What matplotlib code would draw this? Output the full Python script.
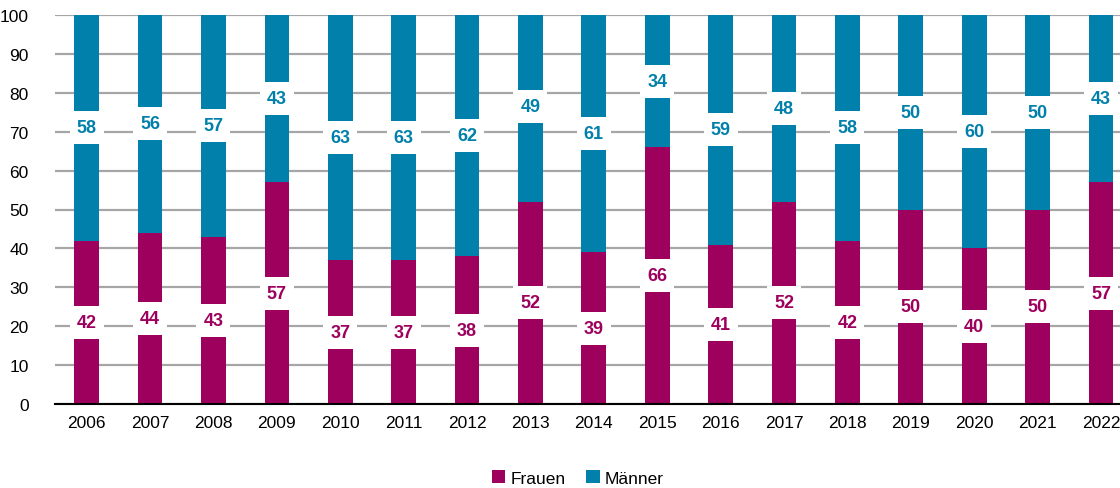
import matplotlib.pyplot as plt
import numpy as np
from matplotlib.patches import Rectangle

years = [str(y) for y in range(2006, 2023)]
frauen = [42, 44, 43, 57, 37, 37, 38, 52, 39, 66, 41, 52, 42, 50, 40, 50, 57]
maenner = [58, 56, 57, 43, 63, 63, 62, 49, 61, 34, 59, 48, 58, 50, 60, 50, 43]

c_f = '#9e005d'
c_m = '#0080aa'

plt.rcParams['font.family'] = ['Liberation Sans', 'DejaVu Sans']

fig = plt.figure(figsize=(11.2, 4.89), dpi=100)
ax = fig.add_axes([55 / 1120, 84 / 489, 1 - 55 / 1120, (405 - 16) / 489])

x = np.arange(len(years))
w = 0.39
ax.bar(x, frauen, w, color=c_f, label='Frauen', zorder=2)
ax.bar(x, maenner, w, bottom=frauen, color=c_m, label='Männer', zorder=2)

# white boxes behind the value labels, ~34x33 px
bw = 34 / 63.4
bh = 33 / 3.89
for i in range(len(years)):
    for val, ctr, col in [(frauen[i], frauen[i] / 2, c_f),
                          (maenner[i], frauen[i] + maenner[i] / 2, c_m)]:
        ax.add_patch(Rectangle((x[i] - bw / 2, ctr - bh / 2), bw, bh,
                               facecolor='white', edgecolor='none', zorder=3))
        ax.text(x[i], ctr, str(val), ha='center', va='center', color=col,
                fontsize=13, fontweight='bold', zorder=4)

ax.set_xlim(-0.5, 16.3)
ax.set_ylim(0, 100)
ax.set_yticks(range(0, 101, 10))
ax.set_xticks(x)
ax.set_xticklabels(years)
ax.tick_params(axis='both', length=0, labelsize=12.5)
ax.tick_params(axis='y', pad=19)
ax.tick_params(axis='x', pad=8)
ax.yaxis.grid(True, color='#a6a6a6', linewidth=1.6, zorder=1)
ax.set_axisbelow(True)
for s in ['top', 'right', 'left']:
    ax.spines[s].set_visible(False)
ax.spines['bottom'].set_color('black')
ax.spines['bottom'].set_linewidth(1.5)
ax.spines['bottom'].set_zorder(5)

fig.legend(loc='center', bbox_to_anchor=(578 / 1120, 10 / 489), ncol=2,
           frameon=False, fontsize=12.5, handlelength=0.75, handleheight=0.75,
           handletextpad=0.3, columnspacing=1.2, borderpad=0)

fig.savefig('out.png', dpi=100)
